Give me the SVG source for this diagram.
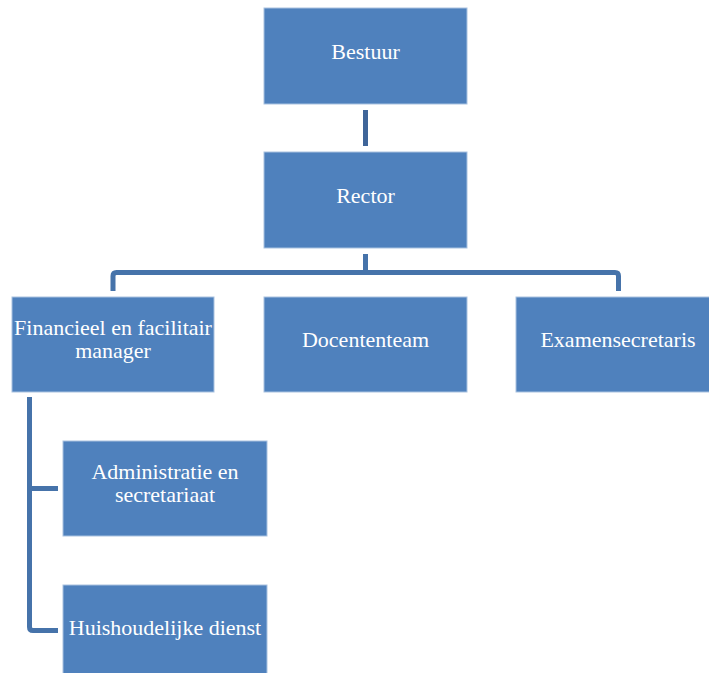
<svg xmlns="http://www.w3.org/2000/svg" width="709" height="673" viewBox="0 0 709 673">
  <style>
    .box { fill: #4F81BD; stroke: #A9C2E0; stroke-width: 1; }
    .lbl { fill: #FFFFFF; font-family: "Liberation Serif", "Times New Roman", serif; font-size: 22px; text-anchor: middle; }
    .conn { fill: none; stroke: #4673AA; stroke-width: 5; }
  </style>
  <rect width="709" height="673" fill="#FFFFFF"/>
  <g id="connectors">
    <line class="conn" x1="365.5" y1="110" x2="365.5" y2="146" style="stroke:#3F6599"/>
    <line class="conn" x1="365.5" y1="254" x2="365.5" y2="272.5"/>
    <path class="conn" d="M113,291 V276 Q113,272.5 116.5,272.5 H615 Q618.5,272.5 618.5,276 V291"/>
    <path class="conn" d="M29.5,397 V627 Q29.5,630.5 33,630.5 H58"/>
    <path class="conn" d="M29.5,488.5 H58"/>
  </g>
  <g id="bestuur">
    <rect class="box" x="264" y="8" width="203" height="96"/>
    <text class="lbl" x="365.5" y="59">Bestuur</text>
  </g>
  <g id="rector">
    <rect class="box" x="264" y="152" width="203" height="96"/>
    <text class="lbl" x="365.5" y="203">Rector</text>
  </g>
  <g id="financieel">
    <rect class="box" x="12" y="297" width="202" height="95"/>
    <text class="lbl" x="113" y="335">Financieel en facilitair</text>
    <text class="lbl" x="113" y="358">manager</text>
  </g>
  <g id="docententeam">
    <rect class="box" x="264" y="297" width="203" height="95"/>
    <text class="lbl" x="365.5" y="347">Docententeam</text>
  </g>
  <g id="examensecretaris">
    <rect class="box" x="516" y="297" width="204" height="95"/>
    <text class="lbl" x="618" y="347">Examensecretaris</text>
  </g>
  <g id="administratie">
    <rect class="box" x="63" y="441" width="204" height="95"/>
    <text class="lbl" x="165" y="479">Administratie en</text>
    <text class="lbl" x="165" y="502">secretariaat</text>
  </g>
  <g id="huishoudelijke">
    <rect class="box" x="63" y="585" width="204" height="96"/>
    <text class="lbl" x="165" y="635">Huishoudelijke dienst</text>
  </g>
</svg>
